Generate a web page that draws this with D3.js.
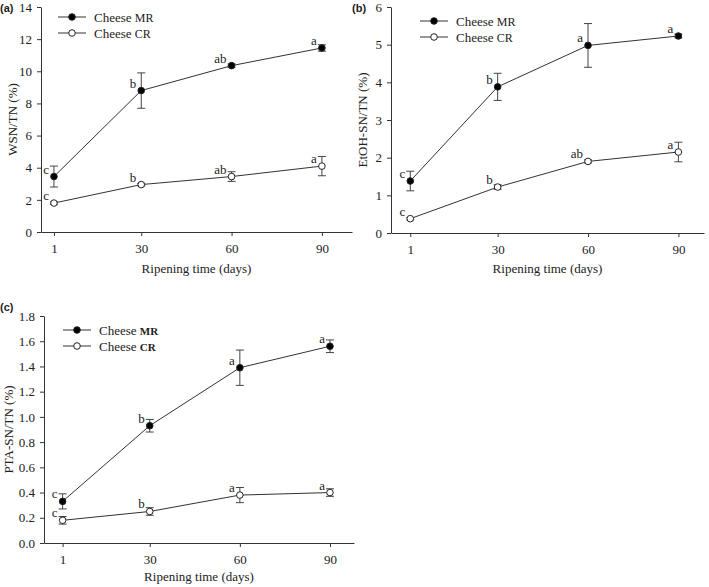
<!DOCTYPE html>
<html>
<head>
<meta charset="utf-8">
<script src="https://cdn.jsdelivr.net/npm/d3@7"></script>
<style>
  body { margin: 0; background: #fff; }
  text { font-family: "Liberation Serif", "Times New Roman", serif; fill: #222; }
</style>
</head>
<body>
<div id="chart"></div>
<script>
// ripening days
const days = [1, 30, 60, 90];

// (a) WSN/TN
const wsnMR = [3.45, 8.8, 10.35, 11.45];
const wsnMRErr = [0.65, 1.1, 0.1, 0.2];
const wsnCR = [1.8, 2.95, 3.45, 4.1];
const wsnCRErr = [0.08, 0.08, 0.3, 0.6];
const wsnMRLetters = ["c", "b", "ab", "a"];
const wsnCRLetters = ["c", "b", "ab", "a"];

// (b) EtOH-SN/TN
const etohMR = [1.38, 3.88, 4.98, 5.23];
const etohMRErr = [0.26, 0.36, 0.58, 0.05];
const etohCR = [0.38, 1.22, 1.9, 2.15];
const etohCRErr = [0.03, 0.06, 0.04, 0.26];
const etohMRLetters = ["c", "b", "a", "a"];
const etohCRLetters = ["c", "b", "ab", "a"];

// (c) PTA-SN/TN
const ptaMR = [0.33, 0.93, 1.39, 1.56];
const ptaMRErr = [0.06, 0.05, 0.14, 0.05];
const ptaCR = [0.18, 0.25, 0.38, 0.40];
const ptaCRErr = [0.03, 0.03, 0.06, 0.03];
const ptaMRLetters = ["c", "b", "a", "a"];
const ptaCRLetters = ["c", "b", "a", "a"];

const seriesNames = ["MR", "CR"];

const width = 709, height = 587;

const svg = d3.select("#chart")
  .append("svg")
  .attr("width", width)
  .attr("height", height);

const toPoints = (vals, errs, letters) =>
  days.map((d, i) => ({ day: d, value: vals[i], err: errs[i], letter: letters[i] }));

const panels = [
  {
    tag: "(a)", ylabel: "WSN/TN (%)", yMax: 14, yTicks: d3.range(0, 15, 2), fmt: d3.format("d"),
    left: 41, right: 352, top: 7, bottom: 232, xDomain: [-3.3, 100], xlabelOff: 41,
    tagPos: [0, 12], ylabelX: 12, legend: [58, 17], boldKey: false,
    series: [toPoints(wsnMR, wsnMRErr, wsnMRLetters), toPoints(wsnCR, wsnCRErr, wsnCRLetters)]
  },
  {
    tag: "(b)", ylabel: "EtOH-SN/TN (%)", yMax: 6, yTicks: d3.range(0, 7, 1), fmt: d3.format("d"),
    left: 391, right: 704, top: 7, bottom: 233, xDomain: [-5.4, 98.5], xlabelOff: 40,
    tagPos: [352, 12], ylabelX: 362, legend: [420, 21], boldKey: false,
    series: [toPoints(etohMR, etohMRErr, etohMRLetters), toPoints(etohCR, etohCRErr, etohCRLetters)]
  },
  {
    tag: "(c)", ylabel: "PTA-SN/TN (%)", yMax: 1.8, yTicks: d3.range(0, 1.81, 0.2), fmt: d3.format(".1f"),
    left: 44, right: 354, top: 316, bottom: 543, xDomain: [-5.2, 98], xlabelOff: 38,
    tagPos: [0, 311], ylabelX: 8, legend: [63, 330], boldKey: true,
    series: [toPoints(ptaMR, ptaMRErr, ptaMRLetters), toPoints(ptaCR, ptaCRErr, ptaCRLetters)]
  }
];

panels.forEach(p => {
  const g = svg.append("g");

  const x = d3.scaleLinear().domain(p.xDomain).range([p.left, p.right]);
  const y = d3.scaleLinear().domain([0, p.yMax]).range([p.bottom, p.top]);

  // axes
  const xAxis = g.append("g")
    .attr("transform", `translate(0,${p.bottom})`)
    .call(d3.axisBottom(x).tickValues(days).tickSize(4).tickPadding(8).tickSizeOuter(0));
  const yAxis = g.append("g")
    .attr("transform", `translate(${p.left},0)`)
    .call(d3.axisLeft(y).tickValues(p.yTicks).tickFormat(p.fmt).tickSize(4).tickPadding(5).tickSizeOuter(0));

  [xAxis, yAxis].forEach(a => {
    a.select(".domain").attr("stroke", "#333");
    a.selectAll(".tick line").attr("stroke", "#333");
    a.selectAll(".tick text")
      .style("font-family", '"Liberation Serif", serif')
      .style("font-size", "13px")
      .attr("fill", "#222");
  });

  // axis titles
  g.append("text")
    .attr("x", (p.left + p.right) / 2)
    .attr("y", p.bottom + p.xlabelOff)
    .attr("text-anchor", "middle")
    .style("font-size", "13px")
    .text("Ripening time (days)");

  g.append("text")
    .attr("transform", `translate(${p.ylabelX},${(p.top + p.bottom) / 2}) rotate(-90)`)
    .attr("text-anchor", "middle")
    .attr("dy", "0.35em")
    .style("font-size", "13px")
    .text(p.ylabel);

  // panel tag
  g.append("text")
    .attr("x", p.tagPos[0])
    .attr("y", p.tagPos[1])
    .style("font-family", '"Liberation Sans", Arial, sans-serif')
    .style("font-weight", "bold")
    .style("font-size", "11px")
    .text(p.tag);

  const line = d3.line().x(d => x(d.day)).y(d => y(d.value));

  p.series.forEach((data, si) => {
    const filled = si === 0;
    const sg = g.append("g");

    sg.append("path")
      .datum(data)
      .attr("fill", "none")
      .attr("stroke", "#333")
      .attr("stroke-width", 1)
      .attr("d", line);

    // error bars
    const eb = sg.selectAll(".eb").data(data).join("g").attr("class", "eb");
    eb.append("line")
      .attr("x1", d => x(d.day)).attr("x2", d => x(d.day))
      .attr("y1", d => y(d.value - d.err)).attr("y2", d => y(d.value + d.err))
      .attr("stroke", "#444");
    eb.append("line")
      .attr("x1", d => x(d.day) - 4).attr("x2", d => x(d.day) + 4)
      .attr("y1", d => y(d.value + d.err)).attr("y2", d => y(d.value + d.err))
      .attr("stroke", "#444");
    eb.append("line")
      .attr("x1", d => x(d.day) - 4).attr("x2", d => x(d.day) + 4)
      .attr("y1", d => y(d.value - d.err)).attr("y2", d => y(d.value - d.err))
      .attr("stroke", "#444");

    sg.selectAll("circle")
      .data(data)
      .join("circle")
      .attr("cx", d => x(d.day))
      .attr("cy", d => y(d.value))
      .attr("r", 3.3)
      .attr("fill", filled ? "#000" : "#fff")
      .attr("stroke", "#222")
      .attr("stroke-width", 1);

    // significance letters
    sg.selectAll(".letter")
      .data(data)
      .join("text")
      .attr("class", "letter")
      .attr("x", d => x(d.day) - 5)
      .attr("y", d => y(d.value) - 3)
      .attr("text-anchor", "end")
      .style("font-size", "13px")
      .text(d => d.letter);

    // legend entry
    const lx = p.legend[0], ly = p.legend[1] + si * 16;
    g.append("line")
      .attr("x1", lx).attr("x2", lx + 28)
      .attr("y1", ly).attr("y2", ly)
      .attr("stroke", "#333");
    g.append("circle")
      .attr("cx", lx + 14).attr("cy", ly).attr("r", 3.3)
      .attr("fill", filled ? "#000" : "#fff")
      .attr("stroke", "#222");
    const t = g.append("text")
      .attr("x", lx + 36)
      .attr("y", ly)
      .attr("dy", "0.35em")
      .style("font-size", "13px");
    t.append("tspan").text("Cheese ");
    t.append("tspan")
      .style("font-size", p.boldKey ? "11px" : "12px")
      .style("font-weight", p.boldKey ? "bold" : "normal")
      .text(seriesNames[si]);
  });
});
</script>
</body>
</html>
